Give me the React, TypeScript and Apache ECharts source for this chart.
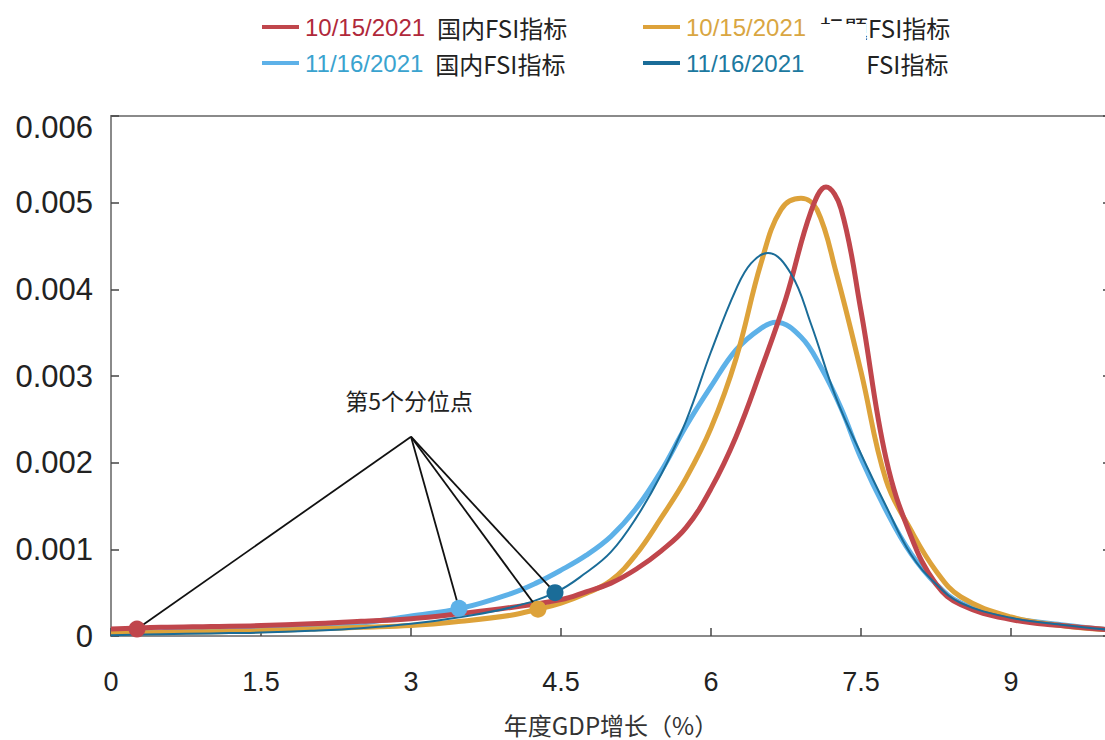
import React, { useEffect, useRef } from "react";
import * as echarts from "echarts";

// ---- data ----
const seriesDates = ["10/15/2021", "11/16/2021", "10/15/2021", "11/16/2021"];
const seriesLabels = ["国内FSI指标", "国内FSI指标", "标题FSI指标", "FSI指标"];
const seriesNames = ["10/15/2021 国内FSI指标", "11/16/2021 国内FSI指标", "10/15/2021 标题FSI指标", "11/16/2021 FSI指标"];

const red1015Domestic: [number, number][] = [
  [0, 0.00008], [0.5, 0.0001], [1, 0.00011], [1.5, 0.00012], [2, 0.00014], [2.5, 0.00017],
  [3, 0.0002], [3.5, 0.00026], [4, 0.00033], [4.5, 0.00042], [4.75, 0.00051], [5, 0.00061],
  [5.25, 0.00077], [5.5, 0.00098], [5.75, 0.00125], [6, 0.0017], [6.25, 0.0023], [6.5, 0.00307],
  [6.75, 0.0039], [7, 0.0049], [7.15, 0.00518], [7.3, 0.00493], [7.5, 0.00375], [7.75, 0.00205],
  [8, 0.00115], [8.25, 0.0006], [8.5, 0.00036], [9, 0.00019], [9.5, 0.00012], [10, 0.00007],
];
const lightBlue1116Domestic: [number, number][] = [
  [0, 0.00004], [0.5, 0.00005], [1, 0.00007], [1.5, 0.00009], [2, 0.00011], [2.5, 0.00015],
  [3, 0.00023], [3.5, 0.00032], [4, 0.00049], [4.25, 0.00061], [4.5, 0.00076], [4.75, 0.00093],
  [5, 0.00115], [5.25, 0.00147], [5.5, 0.0019], [5.75, 0.00242], [6, 0.00288], [6.25, 0.0033],
  [6.5, 0.00355], [6.65, 0.00362], [6.9, 0.00345], [7.1, 0.0031], [7.3, 0.00263], [7.5, 0.00205],
  [7.75, 0.00145], [8, 0.00095], [8.25, 0.0006], [8.5, 0.00038], [9, 0.00021], [9.5, 0.00013], [10, 0.00007],
];
const gold1015Foreign: [number, number][] = [
  [0, 0.00003], [0.5, 0.00004], [1, 0.00005], [1.5, 0.00006], [2, 0.00008], [2.5, 0.0001],
  [3, 0.00012], [3.5, 0.00017], [4, 0.00024], [4.27, 0.00031], [4.5, 0.00038], [4.75, 0.00049],
  [5, 0.00064], [5.25, 0.00094], [5.5, 0.00136], [5.75, 0.00182], [6, 0.0024], [6.25, 0.0032],
  [6.5, 0.0043], [6.7, 0.00492], [6.9, 0.00505], [7.06, 0.00492], [7.25, 0.0042], [7.5, 0.00305],
  [7.75, 0.0018], [8, 0.00122], [8.25, 0.00075], [8.5, 0.00045], [9, 0.00022], [9.5, 0.00012], [10, 0.00007],
];
const dark1116Foreign: [number, number][] = [
  [0, 0.00001], [0.5, 0.00002], [1, 0.00003], [1.5, 0.00004], [2, 0.00006], [2.5, 0.00009],
  [3, 0.00014], [3.5, 0.00022], [4, 0.00033], [4.44, 0.0005], [4.75, 0.00073], [5, 0.00097],
  [5.25, 0.00136], [5.5, 0.00186], [5.75, 0.00248], [6, 0.00328], [6.25, 0.004], [6.4, 0.0043],
  [6.57, 0.00442], [6.8, 0.00418], [7, 0.0036], [7.25, 0.00275], [7.5, 0.0021], [7.75, 0.0015],
  [8, 0.00094], [8.25, 0.0006], [8.5, 0.00038], [9, 0.00021], [9.5, 0.00013], [10, 0.00007],
];

// 5th percentile points (order: red, light blue, gold, dark)
const quantileX = [0.26, 3.48, 4.27, 4.44];
const quantileY = [0.00008, 0.00032, 0.00031, 0.0005];
const annotationApex: [number, number] = [3.0, 0.0023];
const annotationText = "第5个分位点";
const xAxisName = "年度GDP增长（%）";

const colors = ["#C0464C", "#5DB1E8", "#DDA23A", "#1A6C98"];
const dateColors = ["#B0283A", "#3AA3CF", "#D9A642", "#1C79A0"];

const FONT = "'Liberation Sans', Arial, 'Noto Sans CJK SC', sans-serif";
const CJK = "'Noto Sans CJK SC', 'Liberation Sans', sans-serif";

export default function App() {
  const ref = useRef<HTMLDivElement>(null);
  useEffect(() => {
    if (!ref.current) return;
    const chart = echarts.init(ref.current, undefined, { renderer: "svg" });
    const dataSets = [red1015Domestic, lightBlue1116Domestic, gold1015Foreign, dark1116Foreign];
    const widths = [5, 5, 5, 2];
    const drawOrder = [1, 2, 0, 3];

    const legendPos = [
      { left: 257, top: 10 },
      { left: 257, top: 46 },
      { left: 638, top: 10 },
      { left: 638, top: 46 },
    ];
    const legends = seriesNames.map((name, i) => ({
      ...legendPos[i],
      data: [name],
      icon: "rect",
      itemWidth: 37,
      itemHeight: 4,
      selectedMode: false,
      formatter: () =>
        i === 2
          ? `{d|${seriesDates[i]}}{s|标题}{f|FSI指标}`
          : i === 3
          ? `{d|${seriesDates[i]}}{g|${seriesLabels[i]}}`
          : `{d|${seriesDates[i]}}{n|${seriesLabels[i]}}`,
      textStyle: {
        rich: {
          d: { color: dateColors[i], fontSize: 24, fontFamily: FONT, padding: [0, 0, 0, 1] },
          n: { color: "#222", fontSize: 24, fontFamily: CJK, padding: [0, 0, 0, 12] },
          s: { color: "#222", fontSize: 24, fontFamily: CJK, padding: [0, 0, 0, 14] },
          f: { color: "#222", fontSize: 24, fontFamily: CJK },
          g: { color: "#222", fontSize: 24, fontFamily: CJK, padding: [0, 0, 0, 62] },
        },
      },
    }));

    const lineSeries = drawOrder.map((i) => ({
      name: seriesNames[i],
      type: "line",
      data: dataSets[i],
      smooth: 0.4,
      showSymbol: false,
      symbol: "none",
      lineStyle: { color: colors[i], width: widths[i] },
      itemStyle: { color: colors[i] },
      z: 2 + drawOrder.indexOf(i),
    }));

    chart.setOption({
      animation: false,
      backgroundColor: "#fff",
      legend: legends,
      grid: { left: 111, top: 116, width: 1000, height: 520, outerBoundsMode: "none", containLabel: false },
      xAxis: [
        {
          type: "value",
          min: 0,
          max: 10,
          interval: 1.5,
          name: xAxisName,
          nameLocation: "middle",
          nameGap: 76,
          nameTextStyle: { fontSize: 24, color: "#333", fontFamily: CJK },
          axisLine: { show: true, onZero: false, lineStyle: { color: "#8a8a8a", width: 2 } },
          axisTick: { show: true, inside: true, length: 8, lineStyle: { color: "#444", width: 1.5 } },
          axisLabel: { fontSize: 27, color: "#222", margin: 32, fontFamily: FONT, showMaxLabel: false },
          splitLine: { show: false },
        },
        {
          type: "value",
          position: "top",
          min: 0,
          max: 10,
          interval: 1.5,
          axisLine: { show: true, onZero: false, lineStyle: { color: "#8a8a8a", width: 2 } },
          axisTick: { show: false },
          axisLabel: { show: false },
          splitLine: { show: false },
        },
      ],
      yAxis: [
        {
          type: "value",
          position: "left",
          min: 0,
          max: 0.006,
          interval: 0.001,
          axisLine: { show: true, onZero: false, lineStyle: { color: "#8a8a8a", width: 2 } },
          axisTick: { show: true, inside: true, length: 8, lineStyle: { color: "#444", width: 1.5 } },
          axisLabel: {
            fontSize: 31,
            color: "#222",
            margin: 18,
            fontFamily: FONT,
            formatter: (v: number) => (v === 0 ? "0" : v >= 0.006 ? `{t|${v.toFixed(3)}}` : v.toFixed(3)),
            rich: { t: { fontSize: 31, color: "#222", fontFamily: FONT, padding: [22, 0, 0, 0] } },
          },
          splitLine: { show: false },
        },
        {
          type: "value",
          position: "right",
          min: 0,
          max: 0.006,
          interval: 0.001,
          axisLine: { show: true, onZero: false, lineStyle: { color: "#8a8a8a", width: 2 } },
          axisTick: { show: true, inside: true, length: 8, lineStyle: { color: "#444", width: 1.5 } },
          axisLabel: { show: false },
          splitLine: { show: false },
        },
      ],
      series: [
        ...lineSeries,
        {
          type: "lines",
          coordinateSystem: "cartesian2d",
          silent: true,
          z: 10,
          lineStyle: { color: "#111", width: 1.8, opacity: 1, curveness: 0 },
          data: quantileX.map((x, i) => ({ coords: [annotationApex, [x, quantileY[i]]] })),
        },
        {
          type: "scatter",
          silent: true,
          z: 11,
          symbolSize: 17,
          data: quantileX.map((x, i) => ({ value: [x, quantileY[i]], itemStyle: { color: colors[i], opacity: 1 } })),
        },
      ],
      graphic: [
        {
          type: "text",
          x: 409,
          y: 400,
          style: {
            text: annotationText,
            fontSize: 23,
            fontFamily: CJK,
            fill: "#222",
            textAlign: "center",
            textVerticalAlign: "middle",
          },
        },
        {
          // white-out covering the lower part of "标题" as in the source image
          type: "rect",
          shape: { x: 815, y: 24, width: 51, height: 20 },
          style: { fill: "#fff" },
          z: 100,
        },
      ],
    });
    return () => chart.dispose();
  }, []);
  return <div ref={ref} style={{ position: "fixed", left: 0, top: 0, width: 1105, height: 740 }} />;
}
